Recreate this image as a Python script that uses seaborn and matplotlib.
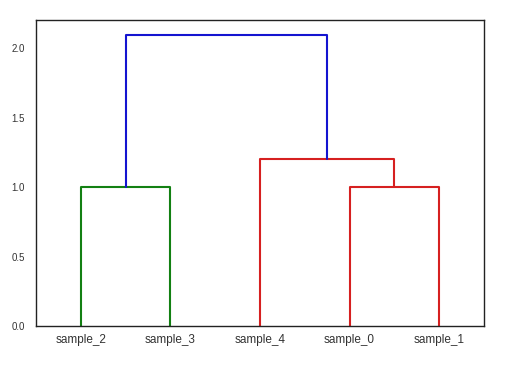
import matplotlib
matplotlib.use("Agg")
import matplotlib.pyplot as plt
import seaborn as sns
import pandas as pd

# Leaf order (left to right) and hierarchical merges
leaf_labels = ["sample_2", "sample_3", "sample_4", "sample_0", "sample_1"]
# each merge joins two nodes: leaves are 0..4 (by position), merges are 5, 6, ...
merge_left = [0, 3, 2, 5]
merge_right = [1, 4, 6, 7]
merge_heights = [1.0, 1.0, 1.2, 2.1]
merge_colors = ["g", "r", "r", "b"]

sns.set_theme(style="white")
plt.rcParams["font.family"] = ["Liberation Sans", "DejaVu Sans"]

# node positions (x = centre, y = height)
node_x = [5 + 10 * i for i in range(len(leaf_labels))]
node_y = [0.0] * len(leaf_labels)
rows = []
for k, (a, b, h, c) in enumerate(zip(merge_left, merge_right, merge_heights, merge_colors)):
    xs = [node_x[a], node_x[a], node_x[b], node_x[b]]
    ys = [node_y[a], h, h, node_y[b]]
    for o, (xx, yy) in enumerate(zip(xs, ys)):
        rows.append({"link": k, "order": o, "x": xx, "y": yy, "color": c})
    node_x.append((node_x[a] + node_x[b]) / 2)
    node_y.append(h)
df = pd.DataFrame(rows)

fig = plt.figure(figsize=(5.12, 3.66), dpi=100)
ax = fig.add_axes([36 / 512, 40 / 366, 448 / 512, 306 / 366])
palette = {"g": "#138013", "r": "#d62020", "b": "#1414d0"}
sns.lineplot(data=df, x="x", y="y", units="link", estimator=None, sort=False,
             hue="color", palette=palette, legend=False, linewidth=1.5, ax=ax)

ax.set_xlim(0, 10 * len(leaf_labels))
ax.set_ylim(0, 2.205)
ax.set_xticks([5 + 10 * i for i in range(len(leaf_labels))])
ax.set_xticklabels(leaf_labels, fontsize=8.5, color="#333333")
ax.set_yticks([0.0, 0.5, 1.0, 1.5, 2.0])
ax.set_yticklabels(["0.0", "0.5", "1.0", "1.5", "2.0"], fontsize=7, color="#333333")
ax.set_xlabel("")
ax.set_ylabel("")
ax.tick_params(axis="x", pad=0)
ax.tick_params(axis="y", pad=2)
for s in ax.spines.values():
    s.set_color("#222222")
    s.set_linewidth(1.0)

fig.savefig("out.png", dpi=100)
